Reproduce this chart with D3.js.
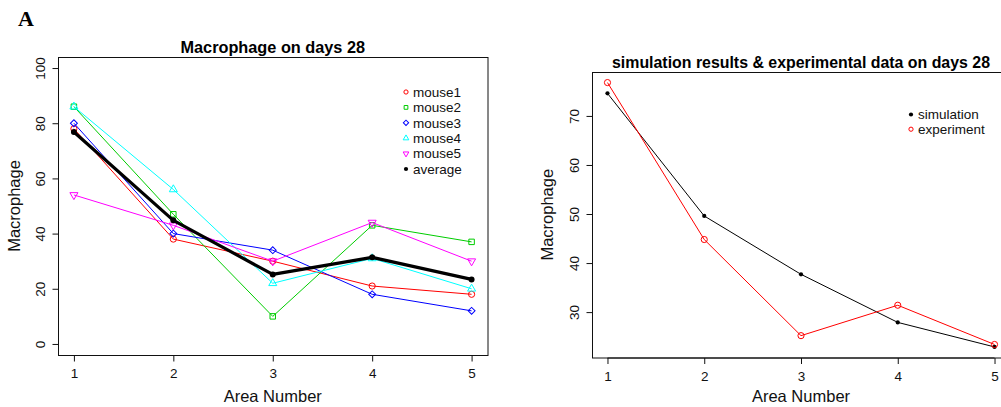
<!DOCTYPE html>
<html>
<head>
<meta charset="utf-8">
<script src="https://cdn.jsdelivr.net/npm/d3@7"></script>
<style>
  body { margin: 0; background: #fff; }
  svg { display: block; font-family: "Liberation Sans", Arial, sans-serif; }
</style>
</head>
<body>
<svg id="chart" width="1001" height="407"></svg>
<script>
// data
const areas = [1, 2, 3, 4, 5];
const mouse1 = [78, 38, 30, 21, 18];
const mouse2 = [86, 47, 10, 43, 37];
const mouse3 = [80, 40, 34, 18, 12];
const mouse4 = [86, 56, 22, 31, 20];
const mouse5 = [54, 43, 30, 44, 30];
const average = [76.8, 44.8, 25.2, 31.4, 23.4];
const simulation = [74.6, 49.6, 37.7, 27.9, 22.9];
const experiment = [76.8, 44.8, 25.2, 31.4, 23.4];

const leftTicks = [0, 20, 40, 60, 80, 100];
const rightTicks = [30, 40, 50, 60, 70];

const svg = d3.select('#chart');
svg.append('rect').attr('width', 1001).attr('height', 407).attr('fill', '#fff');

// R style: extend range by 4% each side
const pad = ([a, b]) => [a - (b - a) * 0.04, b + (b - a) * 0.04];

// symbol shapes like R pch 1..5 and 20
const shape = {
    circle: { type: d3.symbolCircle, rot: 0 },
    square: { type: d3.symbolSquare, rot: 0 },
    diamond: { type: d3.symbolSquare, rot: 45 },
    up: { type: d3.symbolTriangle, rot: 0 },
    down: { type: d3.symbolTriangle, rot: 180 },
    dot: { type: d3.symbolCircle, rot: 0, fill: true },
};

function marker(g, kind, color, x, y, size) {
    const s = shape[kind];
    g.append('path')
        .attr('d', d3.symbol().type(s.type).size(size)())
        .attr('transform', `translate(${x},${y}) rotate(${s.rot})`)
        .attr('fill', s.fill ? color : 'none')
        .attr('stroke', color)
        .attr('stroke-width', s.fill ? 0 : 1);
}

function panel(o) {
    const g = svg.append('g');
    const x = d3.scaleLinear().domain(pad(d3.extent(areas))).range([o.left, o.right]);
    const y = d3.scaleLinear().domain(o.ydom).range([o.bottom, o.top]);

    // series
    const line = d3.line().x((d, i) => x(areas[i])).y(d => y(d));
    o.series.forEach((s) => {
        g.append('path').datum(s.values)
            .attr('d', line)
            .attr('fill', 'none')
            .attr('stroke', s.color)
            .attr('stroke-width', s.width || 1)
            .attr('stroke-linejoin', 'round');
        s.values.forEach((v, i) => marker(g, s.pch, s.color, x(areas[i]), y(v), s.size));
    });

    // box
    g.append('rect')
        .attr('x', o.left + 0.5).attr('y', o.top + 0.5)
        .attr('width', o.right - o.left).attr('height', o.bottom - o.top)
        .attr('fill', 'none').attr('stroke', '#111');

    // x axis
    const xa = g.append('g')
        .attr('transform', `translate(0,${o.bottom + 0.5})`)
        .call(d3.axisBottom(x).tickValues(areas).tickFormat(d3.format('d')).tickSizeOuter(0));
    xa.select('.domain').remove();
    xa.append('line')
        .attr('x1', x(areas[0])).attr('x2', x(areas[areas.length - 1]))
        .attr('stroke', '#111');
    xa.selectAll('text').attr('y', 22.5).attr('dy', 0)
        .attr('fill', '#111').style('font-size', '13.5px');

    // y axis
    const ya = g.append('g')
        .attr('transform', `translate(${o.left + 0.5},0)`)
        .call(d3.axisLeft(y).tickValues(o.yticks).tickSizeOuter(0));
    ya.select('.domain').remove();
    ya.append('line')
        .attr('y1', y(o.yticks[0])).attr('y2', y(o.yticks[o.yticks.length - 1]))
        .attr('stroke', '#111');
    ya.selectAll('text')
        .attr('transform', 'rotate(-90)')
        .attr('x', 0).attr('y', -14).attr('dy', 0)
        .style('text-anchor', 'middle')
        .attr('fill', '#111').style('font-size', '13.5px');
    g.selectAll('.tick line').attr('stroke', '#111');

    // titles
    const cx = (o.left + o.right) / 2;
    g.append('text').attr('x', cx).attr('y', o.titleY)
        .attr('text-anchor', 'middle')
        .style('font-size', o.titleSize).style('font-weight', 'bold')
        .text(o.title);
    g.append('text').attr('x', cx).attr('y', 402)
        .attr('text-anchor', 'middle').style('font-size', '16.5px').attr('fill', '#111')
        .text('Area Number');
    g.append('text')
        .attr('transform', `translate(${o.ylabX},${(o.top + o.bottom) / 2}) rotate(-90)`)
        .attr('text-anchor', 'middle').style('font-size', '16.5px').attr('fill', '#111')
        .text('Macrophage');

    // legend
    o.series.forEach((s, i) => {
        const ly = o.legY + i * o.legStep;
        marker(g, s.pch, s.color, o.legX, ly, 14);
        g.append('text').attr('x', o.legX + 7).attr('y', ly + 4.7)
            .style('font-size', '13.5px').attr('fill', '#111')
            .text(s.name);
    });
}

panel({
    left: 58, right: 487.5, top: 57, bottom: 355,
    ydom: pad([0, 100]), yticks: leftTicks,
    title: 'Macrophage on days 28', titleY: 53, titleSize: '16.3px', ylabX: 19.5,
    legX: 406, legY: 92, legStep: 15.4,
    series: [
        { name: 'mouse1', values: mouse1, color: '#ff0000', pch: 'circle', size: 30 },
        { name: 'mouse2', values: mouse2, color: '#00cd00', pch: 'square', size: 30 },
        { name: 'mouse3', values: mouse3, color: '#0000ff', pch: 'diamond', size: 24 },
        { name: 'mouse4', values: mouse4, color: '#00ffff', pch: 'up', size: 28 },
        { name: 'mouse5', values: mouse5, color: '#ff00ff', pch: 'down', size: 28 },
        { name: 'average', values: average, color: '#000000', pch: 'dot', size: 28, width: 3.2 },
    ],
});

panel({
    left: 592, right: 1010, top: 72, bottom: 357.5,
    ydom: pad(d3.extent(simulation.concat(experiment))), yticks: rightTicks,
    title: 'simulation results & experimental data on days 28', titleY: 67.5, titleSize: '15.9px', ylabX: 553,
    legX: 911, legY: 114.5, legStep: 14.7,
    series: [
        { name: 'simulation', values: simulation, color: '#000000', pch: 'dot', size: 14 },
        { name: 'experiment', values: experiment, color: '#ff0000', pch: 'circle', size: 30 },
    ],
});

// panel letter
svg.append('text').attr('x', 18).attr('y', 25.5)
    .style('font-family', '"Liberation Serif", "Times New Roman", serif')
    .style('font-size', '22px').style('font-weight', 'bold')
    .text('A');
</script>
</body>
</html>
